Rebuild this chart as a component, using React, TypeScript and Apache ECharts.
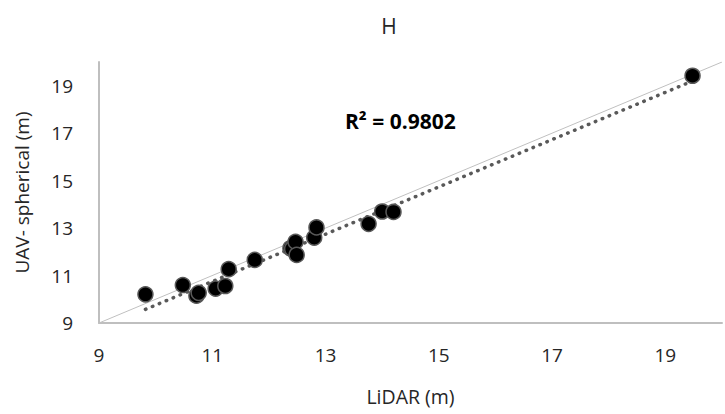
import React, { useEffect, useRef } from "react";
import * as echarts from "echarts";

const lidar = [9.82, 10.48, 10.72, 10.76, 11.06, 11.23, 11.29, 11.75, 12.38, 12.41, 12.47, 12.49, 12.8, 12.84, 13.76, 14.0, 14.2, 19.48];
const uav = [10.21, 10.6, 10.15, 10.27, 10.45, 10.56, 11.27, 11.66, 12.15, 12.12, 12.42, 11.87, 12.6, 13.03, 13.18, 13.7, 13.68, 19.42];
const axisMin = 9;
const axisMax = 20;
const tickStep = 2;
const rSquaredLabel = "R² = 0.9802";
const titleText = "H";
const xName = "LiDAR (m)";
const yName = "UAV- spherical (m)";

const FONT = "'Open Sans', 'Noto Sans', sans-serif";

export default function App() {
  const ref = useRef<HTMLDivElement>(null);
  useEffect(() => {
    if (!ref.current) return;
    const chart = echarts.init(ref.current, null, { renderer: "svg" });
    const pts = lidar.map((x, i) => [x, uav[i]]);
    const n = lidar.length;
    const mx = lidar.reduce((a, b) => a + b, 0) / n;
    const my = uav.reduce((a, b) => a + b, 0) / n;
    let sxy = 0, sxx = 0;
    for (let i = 0; i < n; i++) {
      sxy += (lidar[i] - mx) * (uav[i] - my);
      sxx += (lidar[i] - mx) ** 2;
    }
    const slope = sxy / sxx;
    const intercept = my - slope * mx;
    const xLo = Math.min(...lidar);
    const xHi = Math.max(...lidar);
    const trend = [[xLo, intercept + slope * xLo], [xHi, intercept + slope * xHi]];

    chart.setOption({
      animation: false,
      backgroundColor: "#ffffff",
      textStyle: { fontFamily: FONT },
      title: {
        text: titleText,
        left: 384,
        top: 10,
        textAlign: "center",
        textStyle: { fontFamily: FONT, fontSize: 21, fontWeight: "normal", color: "#262626" },
      },
      grid: { left: 99, top: 62, bottom: 91, right: -12, containLabel: false },
      xAxis: {
        type: "value",
        min: axisMin,
        max: axisMax,
        interval: tickStep,
        name: xName,
        nameLocation: "middle",
        nameGap: 63,
        nameTextStyle: { fontFamily: FONT, fontSize: 19.5, color: "#262626" },
        axisLine: { show: true, lineStyle: { color: "#bfbfbf", width: 2 } },
        axisTick: { show: false },
        splitLine: { show: false },
        axisLabel: {
          fontFamily: FONT,
          fontSize: 19,
          color: "#262626",
          margin: 22,
          formatter: (v: number) => (v >= axisMax ? "" : String(v)),
        },
      },
      yAxis: {
        type: "value",
        min: axisMin,
        max: axisMax,
        interval: tickStep,
        name: yName,
        nameLocation: "middle",
        nameGap: 68,
        nameTextStyle: { fontFamily: FONT, fontSize: 19, color: "#262626" },
        axisLine: { show: true, lineStyle: { color: "#bfbfbf", width: 2 } },
        axisTick: { show: false },
        splitLine: { show: false },
        axisLabel: {
          fontFamily: FONT,
          fontSize: 19,
          color: "#262626",
          margin: 26,
          formatter: (v: number) => (v >= axisMax ? "" : String(v)),
        },
      },
      series: [
        {
          type: "line",
          data: [[axisMin, axisMin], [axisMax, axisMax]],
          symbol: "none",
          lineStyle: { color: "#c0c0c0", width: 1 },
          silent: true,
          z: 1,
        },
        {
          type: "line",
          data: trend,
          symbol: "none",
          lineStyle: { color: "#595959", width: 3.5, type: [0.5, 7], cap: "round" },
          silent: true,
          z: 2,
        },
        {
          type: "scatter",
          data: pts,
          symbol: "circle",
          symbolSize: 15,
          itemStyle: { color: "#000000", borderColor: "#595959", borderWidth: 1.5, opacity: 1 },
          z: 3,
        },
      ],
      graphic: [
        {
          type: "text",
          left: 345,
          top: 110,
          style: {
            text: rSquaredLabel,
            fontFamily: FONT,
            fontSize: 21,
            fontWeight: "bold",
            fill: "#000000",
          },
        },
      ],
    });
    return () => chart.dispose();
  }, []);
  return <div ref={ref} style={{ width: 725, height: 414, position: "absolute", left: 0, top: 0 }} />;
}
